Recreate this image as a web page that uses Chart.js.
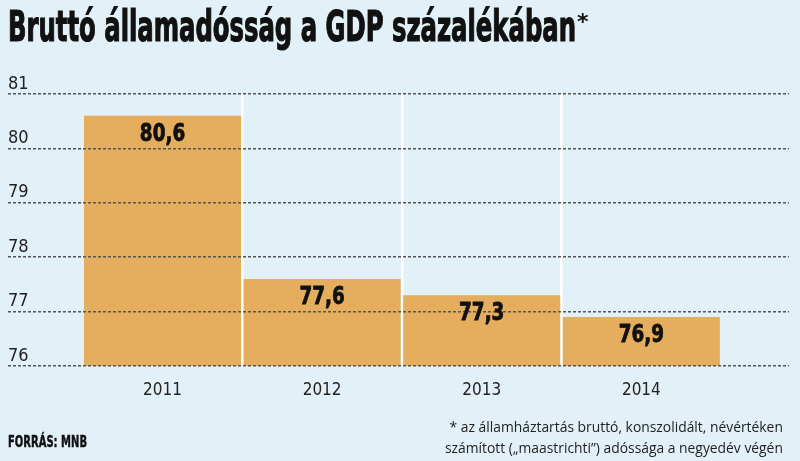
<!DOCTYPE html>
<html>
<head>
<meta charset="utf-8">
<script src="https://cdn.jsdelivr.net/npm/chart.js@4"></script>
<style>
  html, body { margin: 0; padding: 0; background: #e2f1f7; }
  #wrap { position: relative; width: 800px; height: 461px; overflow: hidden; }
  #chart { position: absolute; left: 0; top: 0; }
  .narrow { font-family: "Liberation Sans Narrow", "DejaVu Sans Condensed", "Roboto", sans-serif; }
  #title {
    position: absolute; left: 8px; top: 6px; margin: 0;
    font-size: 42px; line-height: 42px; font-weight: bold; color: #111;
    -webkit-text-stroke: 1.2px #111; white-space: nowrap;
    transform-origin: 0 0;
  }
  #star {
    position: absolute; left: 577px; top: 9px;
    font: bold 22px "DejaVu Sans", sans-serif; color: #111;
  }
  #source {
    position: absolute; left: 8px; top: 435px;
    font-size: 15px; line-height: 15px; font-weight: bold; color: #111;
    -webkit-text-stroke: 0.4px #111; white-space: nowrap; transform-origin: 0 0;
  }
  #note {
    position: absolute; right: 17px; top: 416px; text-align: right;
    font-family: "Open Sans", sans-serif; font-size: 15px; line-height: 21px;
    color: #222; white-space: nowrap; transform-origin: 100% 0;
  }
</style>
</head>
<body>
<div id="wrap">
  <canvas id="chart" width="800" height="461"></canvas>
  <div id="title" class="narrow">Bruttó államadósság a GDP százalékában</div>
  <div id="star">*</div>
  <div id="source" class="narrow">FORRÁS: MNB</div>
  <div id="note">* az államháztartás bruttó, konszolidált, névértéken<br>számított („maastrichti”) adóssága a negyedév végén</div>
</div>
<script>
const years = [2011, 2012, 2013, 2014];
const debtPct = [80.6, 77.6, 77.3, 76.9];
const yTicks = [76, 77, 78, 79, 80, 81];

const narrowFont = '"Liberation Sans Narrow", "DejaVu Sans Condensed", sans-serif';

// squeeze an html text block to the width it has in the picture
function fitWidth(id, width) {
    const el = document.getElementById(id);
    const w = el.getBoundingClientRect().width;
    el.style.transform = 'scaleX(' + (width / w) + ')';
}
fitWidth('title', 568);
fitWidth('source', 79);
fitWidth('note', 338);

const barLabels = {
    id: 'barLabels',
    afterDraw(chart) {
        const ctx = chart.ctx;
        const meta = chart.getDatasetMeta(0);
        ctx.save();
        ctx.font = 'bold 24px ' + narrowFont;
        ctx.fillStyle = '#111';
        ctx.strokeStyle = '#111';
        ctx.lineWidth = 0.8;
        ctx.textAlign = 'center';
        ctx.textBaseline = 'alphabetic';
        meta.data.forEach((bar, i) => {
            const txt = debtPct[i].toFixed(1).replace('.', ',');
            // narrower and taller, like the condensed face of the original
            ctx.save();
            ctx.translate(bar.x, bar.y + 25);
            ctx.scale(0.85, 1);
            ctx.fillText(txt, 0, 0);
            ctx.strokeText(txt, 0, 0);
            ctx.restore();
        });
        ctx.restore();
    }
};

const xMin = 2010.032;
const xMax = 2014.925;

new Chart(document.getElementById('chart'), {
    type: 'bar',
    data: {
        datasets: [{
            data: years.map((y, i) => ({ x: y, y: debtPct[i] })),
            backgroundColor: '#e5ad5e',
            borderWidth: 0,
            barPercentage: 0.984,
            categoryPercentage: 1
        }]
    },
    options: {
        responsive: false,
        animation: false,
        devicePixelRatio: 1,
        layout: { padding: { top: 94, left: 8, right: 11, bottom: 0 } },
        plugins: { legend: { display: false }, tooltip: { enabled: false } },
        scales: {
            x: {
                type: 'linear',
                offset: false,
                min: xMin,
                max: xMax,
                grid: { display: false, offset: false },
                border: { display: false },
                afterFit: s => { s.height = 95; },
                ticks: {
                    stepSize: 1,
                    includeBounds: false,
                    padding: 6,
                    color: '#222',
                    font: { family: narrowFont, size: 17 },
                    callback: v => String(v)
                }
            },
            sep: {
                type: 'linear',
                position: 'top',
                offset: false,
                min: xMin,
                max: xMax,
                afterBuildTicks: s => { s.ticks = years.slice(1).map(y => ({ value: y - 0.5 })); },
                grid: { color: '#ffffff', lineWidth: 2.5, drawTicks: false, offset: false },
                border: { display: false },
                ticks: { display: false }
            },
            y: {
                min: yTicks[0],
                max: yTicks[yTicks.length - 1],
                afterFit: s => { s.width = 0; },
                afterBuildTicks: s => { s.ticks = yTicks.map(v => ({ value: v })); },
                grid: { color: '#555', lineWidth: 1.5, drawTicks: false, z: 1 },
                border: { display: false, dash: [3, 2] },
                ticks: {
                    mirror: true,
                    padding: 0,
                    labelOffset: -10,
                    color: '#222',
                    font: { family: narrowFont, size: 18 }
                }
            }
        }
    },
    plugins: [barLabels]
});
</script>
</body>
</html>
